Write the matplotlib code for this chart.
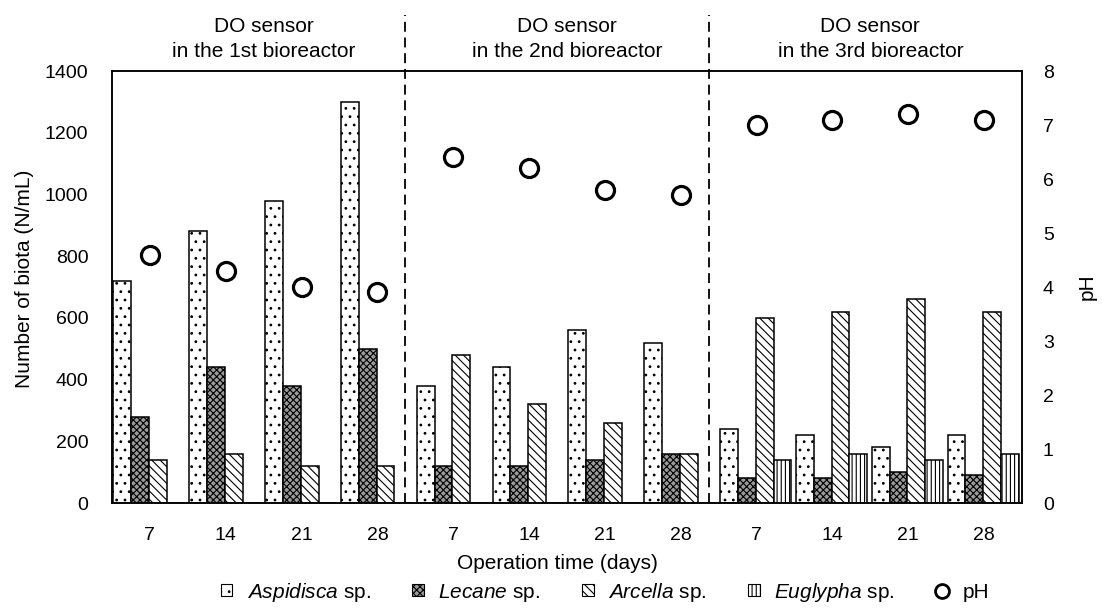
import matplotlib
matplotlib.use("Agg")
import matplotlib.pyplot as plt
import matplotlib.transforms as mtransforms
from matplotlib.lines import Line2D
from matplotlib.patches import Patch
import numpy as np

plt.rcParams["font.family"] = ["Liberation Sans", "DejaVu Sans"]
plt.rcParams["mathtext.fontset"] = "custom"
plt.rcParams["mathtext.rm"] = "Liberation Sans"
plt.rcParams["mathtext.it"] = "Liberation Sans:italic"
plt.rcParams["hatch.linewidth"] = 0.8

# Sampling days, repeated for each bioreactor
days = ["7", "14", "21", "28"] * 3
reactors = [
    "DO sensor\nin the 1st bioreactor",
    "DO sensor\nin the 2nd bioreactor",
    "DO sensor\nin the 3rd bioreactor",
]

# Biota counts (N/mL)
aspidisca = [720, 880, 980, 1300, 380, 440, 560, 520, 240, 220, 180, 220]
lecane = [280, 440, 380, 500, 120, 120, 140, 160, 80, 80, 100, 90]
arcella = [140, 160, 120, 120, 480, 320, 260, 160, 600, 620, 660, 620]
euglypha = [0, 0, 0, 0, 0, 0, 0, 0, 140, 160, 140, 160]

# pH
ph = [4.6, 4.3, 4.0, 3.9, 6.4, 6.2, 5.8, 5.7, 7.0, 7.1, 7.2, 7.1]

series = [
    ("Aspidisca", aspidisca, dict(facecolor="white", hatch="..")),
    ("Lecane", lecane, dict(facecolor="#9a9a9a", hatch="xxxxx")),
    ("Arcella", arcella, dict(facecolor="white", hatch="\\\\\\\\")),
    ("Euglypha", euglypha, dict(facecolor="white", hatch="||||")),
]

fig = plt.figure(figsize=(11.02, 6.09), dpi=100)
ax = fig.add_axes([0.1016, 0.174, 0.8258, 0.7094])

x = np.arange(len(days)) + 0.5
w = 0.235
offsets = (np.arange(4) - 1.5) * w - 0.01

for (name, vals, style), off in zip(series, offsets):
    ax.bar(x + off, vals, width=w, edgecolor="black", linewidth=1.1,
           zorder=2, **style)

ax.set_xlim(0, len(days))
ax.set_ylim(0, 1400)
ax.set_yticks(np.arange(0, 1401, 200))
ax.set_xticks(x)
ax.set_xticklabels(days)
ax.tick_params(axis="y", length=0, pad=17, labelsize=14)
ax.tick_params(axis="x", length=0, pad=17, labelsize=14)
for s in ax.spines.values():
    s.set_linewidth(1.1)

ax.set_ylabel("Number of biota (N/mL)", fontsize=15)
ax.yaxis.set_label_coords(-0.0857, 0.52)
ax.set_xlabel("Operation time (days)", fontsize=15)
ax.xaxis.set_label_coords(0.49, -0.119)

ax2 = ax.twinx()
ax2.plot(x, ph, linestyle="none", marker="o", markersize=13,
         markerfacecolor="none", markeredgecolor="black",
         markeredgewidth=2.3, zorder=3)
ax2.set_ylim(0, 8)
ax2.set_yticks(range(0, 9))
ax2.tick_params(axis="y", length=0, pad=15, labelsize=14)
ax2.set_ylabel("pH", fontsize=15)
ax2.yaxis.set_label_coords(1.0615, 0.5)
for s in ax2.spines.values():
    s.set_linewidth(1.1)

# Dividers between bioreactors, running above the plot area
trans = mtransforms.blended_transform_factory(ax.transData, ax.transAxes)
for xd in (3.87, 7.87):
    ax.plot([xd, xd], [0, 1.13], transform=trans, color="black",
            linewidth=1.3, linestyle=(0, (5.5, 3.2)), clip_on=False, zorder=4)

for i, label in enumerate(reactors):
    ax.text(2 + 4 * i, 1.074, label, transform=trans, ha="center",
            va="center", fontsize=15, linespacing=1.35)

handles = [Patch(edgecolor="black", linewidth=0.8, label=name, **style)
           for name, _, style in series]
labels = [rf"$\it{{{name}}}$ sp." for name, _, _ in series]
handles.append(Line2D([], [], linestyle="none", marker="o", markersize=10,
                      markerfacecolor="none", markeredgecolor="black",
                      markeredgewidth=2.0))
labels.append("pH")
fig.legend(handles, labels, loc="center", ncol=5, frameon=False,
           bbox_to_anchor=(605 / 1102, 17 / 609), fontsize=15,
           handlelength=0.55, handleheight=0.55, handletextpad=0.7,
           columnspacing=2.0, borderpad=0)

fig.savefig("out.png", dpi=100)
